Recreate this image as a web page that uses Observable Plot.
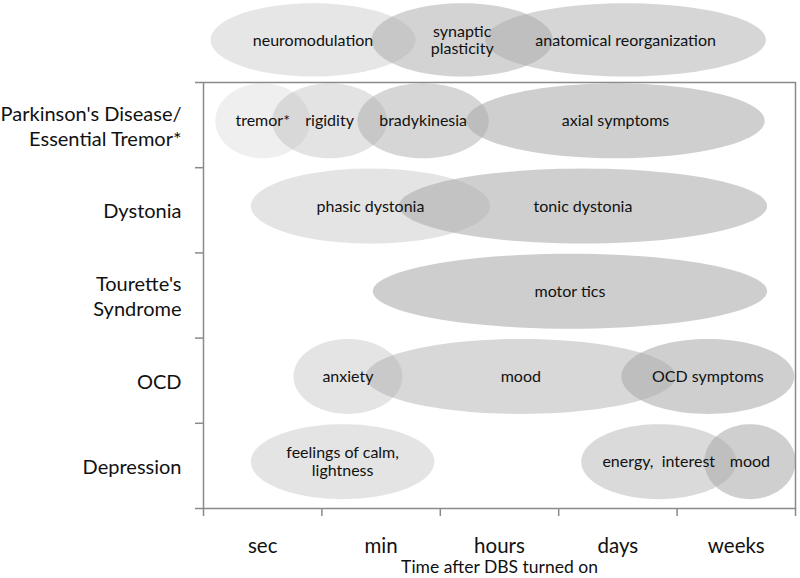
<!DOCTYPE html>
<html>
<head>
<meta charset="utf-8">
<script src="https://cdn.jsdelivr.net/npm/d3@7"></script>
<script src="https://cdn.jsdelivr.net/npm/@observablehq/plot@0.6"></script>
<style>
  html, body { margin: 0; padding: 0; background: #fff; }
  #chart { width: 800px; height: 578px; }
</style>
</head>
<body>
<div id="chart"></div>
<script>
// ---- data ----
const timeLabels = ["sec", "min", "hours", "days", "weeks"];
const disorders = ["Parkinson's Disease/\nEssential Tremor*", "Dystonia", "Tourette's\nSyndrome", "OCD", "Depression"];

const mechanisms = ["neuromodulation", "synaptic\nplasticity", "anatomical reorganization"];
const mechStart = [0.06, 1.42, 2.38];
const mechEnd = [1.79, 2.95, 4.75];

const effectLabels = ["tremor*", "rigidity", "bradykinesia", "axial symptoms",
  "phasic dystonia", "tonic dystonia",
  "motor tics",
  "anxiety", "mood", "OCD symptoms",
  "feelings of calm,\nlightness", "energy,  interest", "mood"];
const effectDisorder = [0, 0, 0, 0, 1, 1, 2, 3, 3, 3, 4, 4, 4];
const effectStart = [0.10, 0.58, 1.30, 2.22, 0.40, 1.65, 1.43, 0.76, 1.37, 3.53, 0.40, 3.19, 4.23];
const effectEnd   = [0.90, 1.55, 2.41, 4.74, 2.42, 4.76, 4.76, 1.68, 3.99, 4.99, 1.95, 4.50, 5.00];

// ---- styles (not data) ----
const baseGray = "#aaaaaa";
const mechShade = [0.29, 0.52, 0.48];
const effectShade = [0.19, 0.33, 0.48, 0.56, 0.32, 0.56, 0.58, 0.32, 0.46, 0.56, 0.32, 0.44, 0.56];

// ---- build tables ----
const rowOffset = 0.45, rowRy = 0.44;
const mechTable = mechanisms.map((m, i) => ({
  label: m, start: mechStart[i], end: mechEnd[i], row: -1, off: 0.5, ry: 0.43, shade: mechShade[i]
}));
const effectTable = effectLabels.map((l, i) => ({
  label: l, start: effectStart[i], end: effectEnd[i], row: effectDisorder[i], off: rowOffset, ry: rowRy, shade: effectShade[i]
}));
const all = [...mechTable, ...effectTable];

function ellipse(d) {
  const cx = (d.start + d.end) / 2, rx = (d.end - d.start) / 2;
  const cy = d.row + d.off;
  const n = 96;
  return d3.range(n + 1).map(k => {
    const t = (2 * Math.PI * k) / n;
    return { x: cx + rx * Math.cos(t), y: cy + d.ry * Math.sin(t) };
  });
}

const ellipseMarks = all.map(d => Plot.line(ellipse(d), {
  x: "x", y: "y", fill: baseGray, fillOpacity: d.shade, stroke: "none", curve: "linear"
}));

const labelTable = all.map(d => ({ x: (d.start + d.end) / 2, y: d.row + d.off, text: d.label }));
const rowTable = disorders.map((d, i) => ({ x: 0, y: i + 0.5, text: d }));

const chart = Plot.plot({
  width: 800,
  height: 578,
  marginLeft: 203,
  marginRight: 5,
  marginTop: 82,
  marginBottom: 70,
  x: { domain: [0, 5], axis: null },
  y: { domain: [0, 5], reverse: true, axis: null },
  style: { fontFamily: "Lato, sans-serif", fontSize: "20px", color: "#111", background: "#fff", overflow: "visible" },
  marks: [
    ...ellipseMarks,
    Plot.text(labelTable, { x: "x", y: "y", text: "text", fontSize: 16, lineHeight: 1.1, fill: "#111" }),
    Plot.text(rowTable, { x: "x", y: "y", text: "text", dx: -22, textAnchor: "end", fontSize: 20, lineHeight: 1.25, fill: "#111" }),
    Plot.axisX(d3.range(6), { tickSize: 8, tickFormat: () => "", stroke: "#8a8a8a", strokeWidth: 1.5, label: null }),
    Plot.axisX(d3.range(5).map(i => i + 0.5), { tickSize: 0, tickPadding: 30, tickFormat: d => timeLabels[Math.floor(d)], fontSize: 20.5, fill: "#111", label: null }),
    Plot.axisY(d3.range(6), { tickSize: 8, tickFormat: () => "", stroke: "#8a8a8a", strokeWidth: 1.5, label: null }),
    Plot.text(["Time after DBS turned on"], { frameAnchor: "bottom", lineAnchor: "middle", dy: 59, fontSize: 17.5, fill: "#111" }),
    Plot.frame({ stroke: "#8a8a8a", strokeWidth: 1.5 })
  ]
});

document.getElementById("chart").appendChild(chart);
</script>
</body>
</html>
